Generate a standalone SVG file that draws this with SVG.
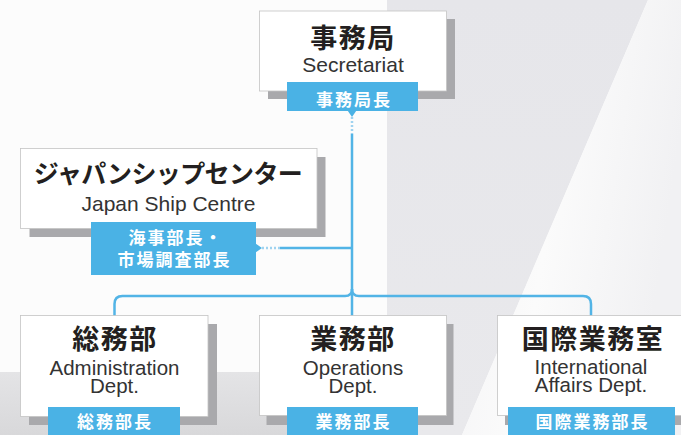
<svg xmlns="http://www.w3.org/2000/svg" width="681" height="435" viewBox="0 0 681 435">
  <defs>
    <linearGradient id="bgBottom" x1="0" y1="0" x2="0" y2="1">
      <stop offset="0" stop-color="#e4e4e6"/>
      <stop offset="1" stop-color="#d8d8da"/>
    </linearGradient>
    <linearGradient id="bgRight" x1="0" y1="0" x2="1" y2="0.3">
      <stop offset="0" stop-color="#f3f3f5"/>
      <stop offset="0.5" stop-color="#fbfbfb"/>
      <stop offset="1" stop-color="#f1f1f3"/>
    </linearGradient>
    <linearGradient id="bgBand" x1="0" y1="0" x2="0" y2="1">
      <stop offset="0" stop-color="#e6e6ea"/>
      <stop offset="1" stop-color="#e9e9ec"/>
    </linearGradient>
  </defs>
  <style>
    .box { fill: #ffffff; stroke: #c4c4c4; stroke-width: 0.8; }
    .shadow { fill: #a9a9ac; }
    .label { fill: #4ab2e5; }
    .title { font-family: "Noto Sans CJK JP", "Noto Sans", sans-serif; font-weight: 700; fill: #231f20; text-anchor: middle; }
    .en { font-family: "Liberation Sans", Arial, sans-serif; font-size: 21px; fill: #333333; text-anchor: middle; }
    .en2 { font-family: "Liberation Sans", Arial, sans-serif; font-size: 20.5px; fill: #333333; text-anchor: middle; }
    .lt { font-family: "Noto Sans CJK JP", "Noto Sans", sans-serif; font-weight: 700; font-size: 17px; fill: #ffffff; text-anchor: middle; letter-spacing: 2px; }
    .conn { fill: none; stroke: #52b4e6; stroke-width: 2.5; }
    .dash { fill: none; stroke: #9fd3f0; stroke-width: 2.5; stroke-dasharray: 2 2; }
  </style>

  <!-- background -->
  <rect x="0" y="0" width="681" height="435" fill="#fcfcfc"/>
  <rect x="0" y="372" width="387" height="63" fill="url(#bgBottom)"/>
  <polygon points="387,0 648,0 462,435 387,435" fill="url(#bgBand)"/>
  <polygon points="648,0 681,0 681,435 462,435" fill="url(#bgRight)"/>

  <!-- connectors -->
  <g id="connectors">
    <path class="dash" d="M352,117 V134"/>
    <path class="conn" d="M352,134 V316"/>
    <path class="dash" d="M262,248 H280"/>
    <path class="conn" d="M280,248 H352"/>
    <path class="conn" d="M114.5,316 V304 Q114.5,296 122.5,296 H345 Q352,296 352,289"/>
    <path class="conn" d="M352,289 Q352,296 359,296 H583 Q591,296 591,304 V316"/>
  </g>

  <!-- Secretariat -->
  <g id="secretariat">
    <rect class="shadow" x="268" y="19" width="187" height="80"/>
    <rect class="box" x="259.5" y="11" width="187" height="80"/>
    <text class="title" x="353" y="48" font-size="27" letter-spacing="1.5">事務局</text>
    <text class="en" x="353" y="72">Secretariat</text>
    <rect class="label" x="287" y="82" width="131" height="29"/>
    <polygon class="label" points="347.5,110.5 356.5,110.5 352,117"/>
    <text class="lt" x="354" y="106" font-size="18">事務局長</text>
  </g>

  <!-- Japan Ship Centre -->
  <g id="japan-ship-centre">
    <rect class="shadow" x="29.5" y="157" width="296" height="80"/>
    <rect class="box" x="20.5" y="148.5" width="296.5" height="80"/>
    <text class="title" x="168" y="182.5" font-size="25" letter-spacing="-0.6">ジャパンシップセンター</text>
    <text class="en" x="168.5" y="211">Japan Ship Centre</text>
    <rect class="label" x="91" y="222" width="165" height="53"/>
    <polygon class="label" points="255.5,243.5 255.5,252.5 262,248"/>
    <text class="lt"><tspan x="176" y="244">海事部長・</tspan><tspan x="174.5" y="266">市場調査部長</tspan></text>
  </g>

  <!-- Administration -->
  <g id="administration">
    <rect class="shadow" x="29" y="324" width="188" height="101"/>
    <rect class="box" x="20.5" y="315.5" width="187.5" height="101"/>
    <text class="title" x="115" y="349" font-size="27" letter-spacing="1.5">総務部</text>
    <text class="en2"><tspan x="114.5" y="374.5">Administration</tspan><tspan x="114.5" y="393">Dept.</tspan></text>
    <rect class="label" x="48" y="407" width="132" height="30"/>
    <text class="lt" x="115" y="428">総務部長</text>
  </g>

  <!-- Operations -->
  <g id="operations">
    <rect class="shadow" x="266.5" y="324" width="187" height="101"/>
    <rect class="box" x="259.5" y="315.5" width="187" height="100"/>
    <text class="title" x="353" y="349" font-size="27" letter-spacing="1.5">業務部</text>
    <text class="en2"><tspan x="353" y="374.5">Operations</tspan><tspan x="353" y="393">Dept.</tspan></text>
    <rect class="label" x="287" y="407" width="131" height="30"/>
    <text class="lt" x="353.5" y="428">業務部長</text>
  </g>

  <!-- International Affairs -->
  <g id="international">
    <rect class="shadow" x="505" y="324" width="187" height="101"/>
    <rect class="box" x="497.5" y="315.5" width="187" height="100"/>
    <text class="title" x="593" y="349" font-size="27" letter-spacing="1.5">国際業務室</text>
    <text class="en2"><tspan x="591" y="373.5">International</tspan><tspan x="591" y="391.5">Affairs Dept.</tspan></text>
    <rect class="label" x="508" y="407" width="167" height="30"/>
    <text class="lt" x="592.5" y="428">国際業務部長</text>
  </g>
</svg>
